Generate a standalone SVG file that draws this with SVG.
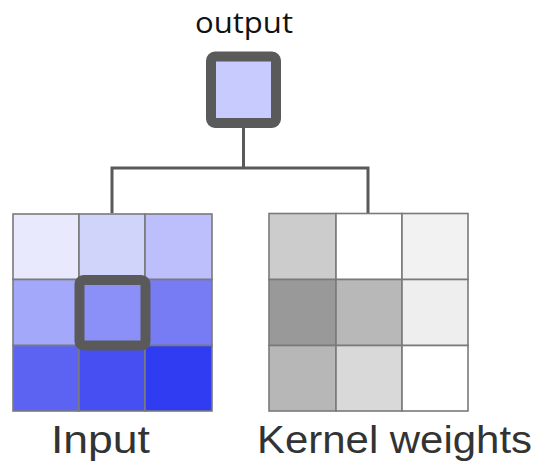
<svg xmlns="http://www.w3.org/2000/svg" width="537" height="469" viewBox="0 0 537 469">
<style>
.cell{stroke:#7a7a7a;stroke-width:1.6}
.hl{fill:none;stroke:#5a5a5a;stroke-width:10;stroke-linejoin:round}
.out{fill:#c8cbfe}
.conn{fill:none;stroke:#5a5a5a;stroke-width:3}
.lbl{font-family:"Liberation Sans",Arial,sans-serif;font-size:39px;fill:#333}
.top{font-family:"Open Sans","Liberation Sans",sans-serif;font-size:29px;fill:#111}
</style>
<rect width="537" height="469" fill="#fff"/>
<g id="connectors">
<path class="conn" d="M243.5 128 V168 M112 213 V168 H368 V213"/>
</g>
<g id="output">
<text class="top" x="195" y="33" textLength="98" lengthAdjust="spacingAndGlyphs">output</text>
<rect x="211" y="56.5" width="65" height="66.5" rx="4" class="hl out"/>
</g>
<g id="input">
<rect class="cell" x="13" y="214" width="66" height="65.5" fill="#e8e9fc"/>
<rect class="cell" x="79" y="214" width="66" height="65.5" fill="#d1d4fa"/>
<rect class="cell" x="145" y="214" width="67" height="65.5" fill="#bcbffc"/>
<rect class="cell" x="13" y="279.5" width="66" height="66" fill="#a3a8fa"/>
<rect class="cell" x="79" y="279.5" width="66" height="66" fill="#8b90f8"/>
<rect class="cell" x="145" y="279.5" width="67" height="66" fill="#777cf5"/>
<rect class="cell" x="13" y="345.5" width="66" height="65.5" fill="#5c63f3"/>
<rect class="cell" x="79" y="345.5" width="66" height="65.5" fill="#474ff3"/>
<rect class="cell" x="145" y="345.5" width="67" height="65.5" fill="#2f3cf2"/>
<rect class="hl" x="79.5" y="280" width="66" height="65.5" rx="4"/>
<text class="lbl" x="51" y="452.5" textLength="99" lengthAdjust="spacingAndGlyphs">Input</text>
</g>
<g id="kernel">
<rect class="cell" x="269" y="213.5" width="67" height="66" fill="#cccccc"/>
<rect class="cell" x="336" y="213.5" width="66" height="66" fill="#ffffff"/>
<rect class="cell" x="402" y="213.5" width="66" height="66" fill="#f2f2f2"/>
<rect class="cell" x="269" y="279.5" width="67" height="66" fill="#999999"/>
<rect class="cell" x="336" y="279.5" width="66" height="66" fill="#b8b8b8"/>
<rect class="cell" x="402" y="279.5" width="66" height="66" fill="#eeeeee"/>
<rect class="cell" x="269" y="345.5" width="67" height="65.5" fill="#b7b7b7"/>
<rect class="cell" x="336" y="345.5" width="66" height="65.5" fill="#d9d9d9"/>
<rect class="cell" x="402" y="345.5" width="66" height="65.5" fill="#ffffff"/>
<text class="lbl" x="257" y="452.5" textLength="275" lengthAdjust="spacingAndGlyphs">Kernel weights</text>
</g>
</svg>
